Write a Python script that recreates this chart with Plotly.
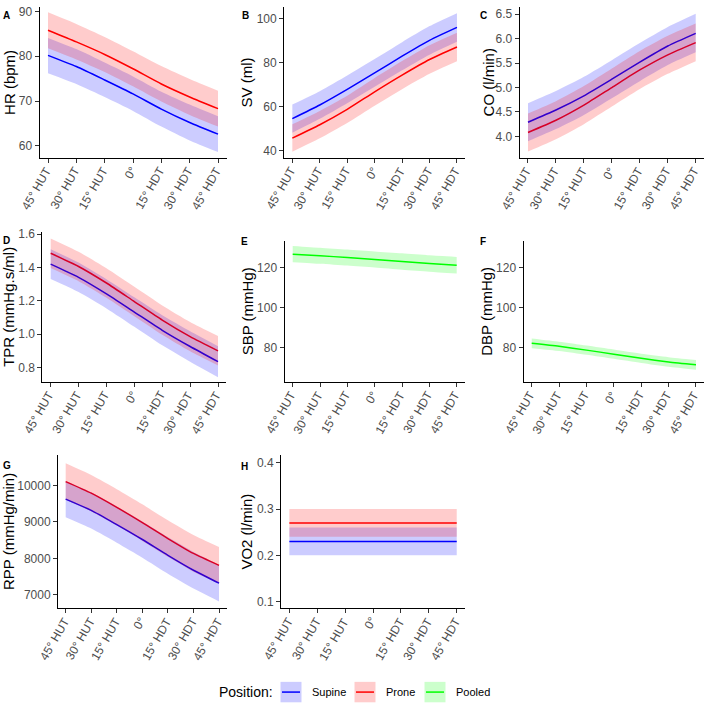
import plotly.graph_objects as go

W, H = 709, 704

angles = [-45, -30, -15, 0, 15, 30, 45]
tick_labels = ["45° HUT", "30° HUT", "15° HUT", "0°", "15° HDT", "30° HDT", "45° HDT"]

# A: HR (bpm)
hr_sup = [80.2, 77.7, 74.7, 71.6, 68.2, 65.2, 62.6]
hr_sup_lo = [76.2, 73.8, 70.9, 67.8, 64.3, 61.2, 58.6]
hr_sup_hi = [84.1, 81.6, 78.6, 75.5, 72.1, 69.2, 66.6]
hr_pro = [85.8, 83.2, 80.4, 77.2, 73.8, 70.9, 68.3]
hr_pro_lo = [81.8, 79.3, 76.5, 73.3, 69.9, 66.9, 64.3]
hr_pro_hi = [89.8, 87.2, 84.3, 81.1, 77.8, 74.9, 72.3]

# B: SV (ml)
sv_sup = [54.6, 60.8, 67.9, 75.4, 83.0, 90.2, 96.1]
sv_sup_lo = [48.2, 54.5, 61.6, 69.1, 76.6, 83.7, 89.6]
sv_sup_hi = [61.0, 67.1, 74.2, 81.7, 89.4, 96.7, 102.6]
sv_pro = [45.7, 51.8, 58.8, 66.8, 74.4, 81.5, 87.2]
sv_pro_lo = [39.5, 45.6, 52.6, 60.5, 68.0, 75.0, 80.7]
sv_pro_hi = [52.0, 58.1, 65.0, 73.1, 80.8, 88.0, 93.7]

# C: CO (l/min)
co_sup = [4.29, 4.54, 4.83, 5.17, 5.52, 5.85, 6.11]
co_sup_lo = [3.90, 4.15, 4.44, 4.78, 5.13, 5.46, 5.72]
co_sup_hi = [4.68, 4.93, 5.22, 5.56, 5.91, 6.24, 6.51]
co_pro = [4.08, 4.33, 4.64, 5.00, 5.36, 5.67, 5.92]
co_pro_lo = [3.69, 3.94, 4.25, 4.61, 4.97, 5.28, 5.54]
co_pro_hi = [4.47, 4.72, 5.03, 5.39, 5.75, 6.06, 6.31]

# D: TPR (mmHg.s/ml)
tpr_sup = [1.420, 1.341, 1.242, 1.133, 1.024, 0.927, 0.836]
tpr_sup_lo = [1.331, 1.253, 1.155, 1.045, 0.934, 0.836, 0.743]
tpr_sup_hi = [1.509, 1.429, 1.329, 1.221, 1.114, 1.018, 0.929]
tpr_pro = [1.485, 1.406, 1.307, 1.196, 1.085, 0.986, 0.901]
tpr_pro_lo = [1.397, 1.318, 1.219, 1.108, 0.997, 0.898, 0.813]
tpr_pro_hi = [1.574, 1.494, 1.395, 1.284, 1.173, 1.074, 0.990]

# E: SBP (mmHg), pooled
sbp = [126.6, 125.8, 124.9, 123.9, 122.9, 121.9, 121.1]
sbp_lo = [122.6, 121.8, 120.9, 119.9, 118.8, 117.8, 116.9]
sbp_hi = [130.7, 129.8, 128.9, 127.9, 127.0, 126.0, 125.2]

# F: DBP (mmHg), pooled
dbp = [82.1, 80.6, 78.7, 76.7, 74.6, 72.8, 71.4]
dbp_lo = [79.7, 78.3, 76.4, 74.4, 72.3, 70.4, 68.9]
dbp_hi = [84.5, 82.9, 81.0, 79.0, 76.9, 75.2, 73.8]

# G: RPP (mmHg/min)
rpp_sup = [9627, 9318, 8927, 8518, 8082, 7673, 7318]
rpp_sup_lo = [9130, 8820, 8430, 8020, 7580, 7170, 6818]
rpp_sup_hi = [10125, 9815, 9425, 9015, 8585, 8175, 7820]
rpp_pro = [10109, 9790, 9400, 8982, 8545, 8136, 7809]
rpp_pro_lo = [9610, 9290, 8900, 8480, 8045, 7635, 7310]
rpp_pro_hi = [10610, 10290, 9900, 9485, 9045, 8640, 8310]

# H: VO2 (l/min)
vo2_sup = [0.23, 0.23, 0.23, 0.23, 0.23, 0.23, 0.23]
vo2_sup_lo = [0.20, 0.20, 0.20, 0.20, 0.20, 0.20, 0.20]
vo2_sup_hi = [0.26, 0.26, 0.26, 0.26, 0.26, 0.26, 0.26]
vo2_pro = [0.27, 0.27, 0.27, 0.27, 0.27, 0.27, 0.27]
vo2_pro_lo = [0.24, 0.24, 0.24, 0.24, 0.24, 0.24, 0.24]
vo2_pro_hi = [0.30, 0.30, 0.30, 0.30, 0.30, 0.30, 0.30]

positions = ["Supine", "Prone", "Pooled"]
line_colors = {"Supine": "#0000FF", "Prone": "#FF0000", "Pooled": "#00FF00"}
fill_colors = {"Supine": "rgba(0,0,255,0.2)", "Prone": "rgba(255,0,0,0.2)", "Pooled": "rgba(0,255,0,0.2)"}

FONT = "Liberation Sans, Arial, Helvetica, sans-serif"
TICK_GRAY = "#4D4D4D"

# panel layout in pixels
panels = [
    ("A", "HR (bpm)", [("Supine", hr_sup, hr_sup_lo, hr_sup_hi), ("Prone", hr_pro, hr_pro_lo, hr_pro_hi)],
     39.5, 226.5, 2, 154, [57.3, 91.0], [60, 70, 80, 90], "d", 9.5, 6, 11),
    ("B", "SV (ml)", [("Supine", sv_sup, sv_sup_lo, sv_sup_hi), ("Prone", sv_pro, sv_pro_lo, sv_pro_hi)],
     284.1, 465.2, 2, 154, [36.7, 105.4], [40, 60, 80, 100], "d", 246, 245, 11),
    ("C", "CO (l/min)", [("Supine", co_sup, co_sup_lo, co_sup_hi), ("Prone", co_pro, co_pro_lo, co_pro_hi)],
     519.6, 704.1, 2, 154, [3.559, 6.649], [4.0, 4.5, 5.0, 5.5, 6.0, 6.5], ".1f", 488, 483.5, 11),
    ("D", "TPR (mmHg.s/ml)", [("Supine", tpr_sup, tpr_sup_lo, tpr_sup_hi), ("Prone", tpr_pro, tpr_pro_lo, tpr_pro_hi)],
     42.3, 226.4, 229, 380, [0.7127, 1.61], [0.8, 1.0, 1.2, 1.4, 1.6], ".1f", 8.5, 6, 237),
    ("E", "SBP (mmHg)", [("Pooled", sbp, sbp_lo, sbp_hi)],
     284.5, 464.9, 238, 380, [62.65, 133.0], [80, 100, 120], "d", 247.5, 244.5, 238.5),
    ("F", "DBP (mmHg)", [("Pooled", dbp, dbp_lo, dbp_hi)],
     523.5, 704.2, 238, 380, [62.65, 133.0], [80, 100, 120], "d", 487, 482.5, 238.5),
    ("G", "RPP (mmHg/min)", [("Supine", rpp_sup, rpp_sup_lo, rpp_sup_hi), ("Prone", rpp_pro, rpp_pro_lo, rpp_pro_hi)],
     58.0, 226.7, 453, 607.7, [6626, 10845], [7000, 8000, 9000, 10000], "d", 8.5, 7, 464),
    ("H", "VO2 (l/min)", [("Supine", vo2_sup, vo2_sup_lo, vo2_sup_hi), ("Prone", vo2_pro, vo2_pro_lo, vo2_pro_hi)],
     281.0, 465.1, 453, 607.7, [0.0856, 0.417], [0.1, 0.2, 0.3, 0.4], ".1f", 247, 244.5, 464.5),
]

fig = go.Figure()
annotations = []
layout_axes = {}

for i, (letter, ytitle, series, x0, x1, ytop, ybot, yrange, yticks, yfmt, tx, lx, ly) in enumerate(panels):
    n = i + 1
    xa = "x" if n == 1 else f"x{n}"
    ya = "y" if n == 1 else f"y{n}"
    xkey = "xaxis" if n == 1 else f"xaxis{n}"
    ykey = "yaxis" if n == 1 else f"yaxis{n}"

    # lines first, ribbons drawn on top (as in the reference)
    for pos, mean, lo, hi in series:
        fig.add_trace(go.Scatter(x=angles, y=mean, mode="lines", xaxis=xa, yaxis=ya,
                                 line=dict(color=line_colors[pos], width=1.5, shape="spline", smoothing=0.6),
                                 showlegend=False, hoverinfo="skip"))
    for pos, mean, lo, hi in series:
        fig.add_trace(go.Scatter(x=angles, y=lo, mode="lines", xaxis=xa, yaxis=ya,
                                 line=dict(width=0, shape="spline", smoothing=0.6, color=fill_colors[pos]),
                                 showlegend=False, hoverinfo="skip"))
        fig.add_trace(go.Scatter(x=angles, y=hi, mode="lines", xaxis=xa, yaxis=ya,
                                 fill="tonexty", fillcolor=fill_colors[pos],
                                 line=dict(width=0, shape="spline", smoothing=0.6, color=fill_colors[pos]),
                                 showlegend=False, hoverinfo="skip"))

    layout_axes[xkey] = dict(
        domain=[x0 / W, x1 / W], anchor=ya, range=[-49.5, 49.5],
        tickmode="array", tickvals=angles, showticklabels=False,
        showline=True, linecolor="black", linewidth=1, ticks="outside", ticklen=4,
        tickcolor="#333333",
        showgrid=False, zeroline=False, fixedrange=True,
    )
    layout_axes[ykey] = dict(
        domain=[1 - ybot / H, 1 - ytop / H], anchor=xa, range=yrange,
        tickmode="array", tickvals=yticks, tickformat=yfmt,
        showline=True, linecolor="black", linewidth=1, ticks="outside", ticklen=4,
        tickcolor="#333333", tickfont=dict(size=12, color=TICK_GRAY, family=FONT),
        showgrid=False, zeroline=False, fixedrange=True,
    )

    # rotated x tick labels (end of text at the tick, like hjust=1 / vjust=1)
    for a, lab in zip(angles, tick_labels):
        annotations.append(dict(text=lab, x=a, xref=xa, y=1 - (ybot + 5) / H, yref="paper",
                                textangle=-60, showarrow=False, xanchor="right", yanchor="top",
                                xshift=8, borderpad=0,
                                font=dict(size=12, color=TICK_GRAY, family=FONT)))

    annotations.append(dict(text=ytitle, x=tx / W, y=1 - ((ytop + ybot) / 2) / H, xref="paper", yref="paper",
                            textangle=-90, showarrow=False, xanchor="center", yanchor="middle",
                            font=dict(size=15, color="black", family=FONT)))
    annotations.append(dict(text=f"<b>{letter}</b>", x=lx / W, y=1 - ly / H, xref="paper", yref="paper",
                            showarrow=False, xanchor="center", yanchor="middle",
                            font=dict(size=10, color="black", family=FONT)))

# Legend (drawn manually)
shapes = []
leg_y0, leg_y1 = 681.7, 702.3
leg_cy = (leg_y0 + leg_y1) / 2
annotations.append(dict(text="Position:", x=216.5 / W, y=1 - leg_cy / H, xref="paper", yref="paper",
                        showarrow=False, xanchor="left", yanchor="middle",
                        font=dict(size=14, color="black", family=FONT)))
legend_boxes = {"Supine": (280.5, 310), "Prone": (354.5, 384), "Pooled": (424.5, 453.5)}
for pos in positions:
    bx, txx = legend_boxes[pos]
    shapes.append(dict(type="rect", xref="paper", yref="paper", x0=bx / W, x1=(bx + 21) / W,
                       y0=1 - leg_y1 / H, y1=1 - leg_y0 / H, fillcolor=fill_colors[pos], line=dict(width=0)))
    shapes.append(dict(type="line", xref="paper", yref="paper", x0=(bx + 1.5) / W, x1=(bx + 19.5) / W,
                       y0=1 - leg_cy / H, y1=1 - leg_cy / H, line=dict(color=line_colors[pos], width=1.5)))
    annotations.append(dict(text=pos, x=txx / W, y=1 - leg_cy / H, xref="paper", yref="paper",
                            showarrow=False, xanchor="left", yanchor="middle",
                            font=dict(size=11, color="black", family=FONT)))

fig.update_layout(
    width=W, height=H,
    margin=dict(l=0, r=0, t=0, b=0),
    paper_bgcolor="white", plot_bgcolor="white",
    font=dict(family=FONT, color="black"),
    showlegend=False,
    annotations=annotations,
    shapes=shapes,
    **layout_axes,
)

fig.write_html(
    "out.html",
    config={"displayModeBar": False},
    post_script="document.body.style.margin='0';document.body.style.padding='0';document.body.style.overflow='hidden';",
)
